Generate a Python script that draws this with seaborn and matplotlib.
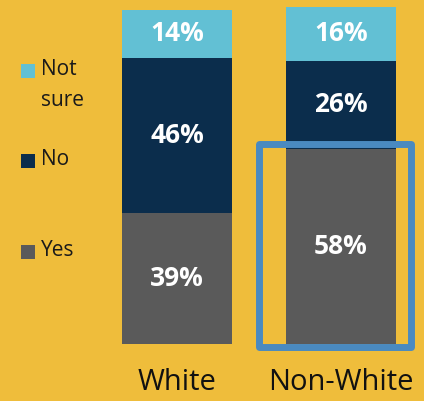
import matplotlib
matplotlib.use("Agg")
import matplotlib.pyplot as plt
import seaborn as sns
import pandas as pd
from matplotlib.patches import Rectangle

# ------------------------------
# data
# ------------------------------
groups = ["White", "Non-White"]
yes = [39, 58]
no = [46, 26]
not_sure = [14, 16]
legend_labels = ["Not\nsure", "No", "Yes"]

BG = "#EFBD3B"
C_YES = "#5A5A5A"
C_NO = "#0B2D4C"
C_NS = "#62C0D4"
C_BOX = "#4A8AC0"

df = pd.DataFrame({"group": groups, "yes": yes, "no": no, "not_sure": not_sure})
df["yes_no"] = df["yes"] + df["no"]
df["total"] = df["yes_no"] + df["not_sure"]

sns.set_theme(style="white")
plt.rcParams["font.family"] = ["Open Sans", "DejaVu Sans"]

W, H = 424, 401
fig = plt.figure(figsize=(W / 100, H / 100), dpi=100, facecolor=BG)
ax = fig.add_axes([62.2 / W, 57 / H, 360.8 / W, 337 / H])
ax.set_facecolor("none")

# stacked bars: draw cumulative totals back to front
for col, color in [("total", C_NS), ("yes_no", C_NO), ("yes", C_YES)]:
    sns.barplot(data=df, x="group", y=col, color=color, width=0.67,
                saturation=1, errorbar=None, linewidth=0, ax=ax)

# segment labels
for i in range(len(groups)):
    mids = [yes[i] / 2, yes[i] + no[i] / 2, yes[i] + no[i] + not_sure[i] / 2]
    vals = [yes[i], no[i], not_sure[i]]
    for m, v in zip(mids, vals):
        ax.text(i, m, f"{v}%", ha="center", va="center", color="white",
                fontsize=19, fontweight="bold")

# highlight box around Non-White "Yes"
box = Rectangle((1 - 0.497, -1.0), 0.921, yes[1] + 2.2, fill=False,
                edgecolor=C_BOX, linewidth=5.0, joinstyle="round", clip_on=False)
ax.add_patch(box)

ax.set_xlim(-0.7, 1.5)
ax.set_ylim(0, 100)
ax.set_xlabel("")
ax.set_ylabel("")
ax.set_yticks([])
ax.tick_params(axis="x", length=0, pad=17, labelsize=21, labelcolor="#111111")
sns.despine(ax=ax, left=True, bottom=True)

# legend drawn by hand (square next to first line of each label)
legend_colors = [C_NS, C_NO, C_YES]
legend_py = [71, 161, 252]
for lab, c, py in zip(legend_labels, legend_colors, legend_py):
    fig.add_artist(Rectangle((21 / W, 1 - (py + 7) / H), 14 / W, 14 / H,
                             transform=fig.transFigure, color=c, lw=0))
    fig.text(41 / W, 1 - (py - 12) / H, lab, ha="left", va="top",
             fontsize=15, color="#1a1a1a", linespacing=1.6)

fig.savefig("out.png", dpi=100, facecolor=BG)
